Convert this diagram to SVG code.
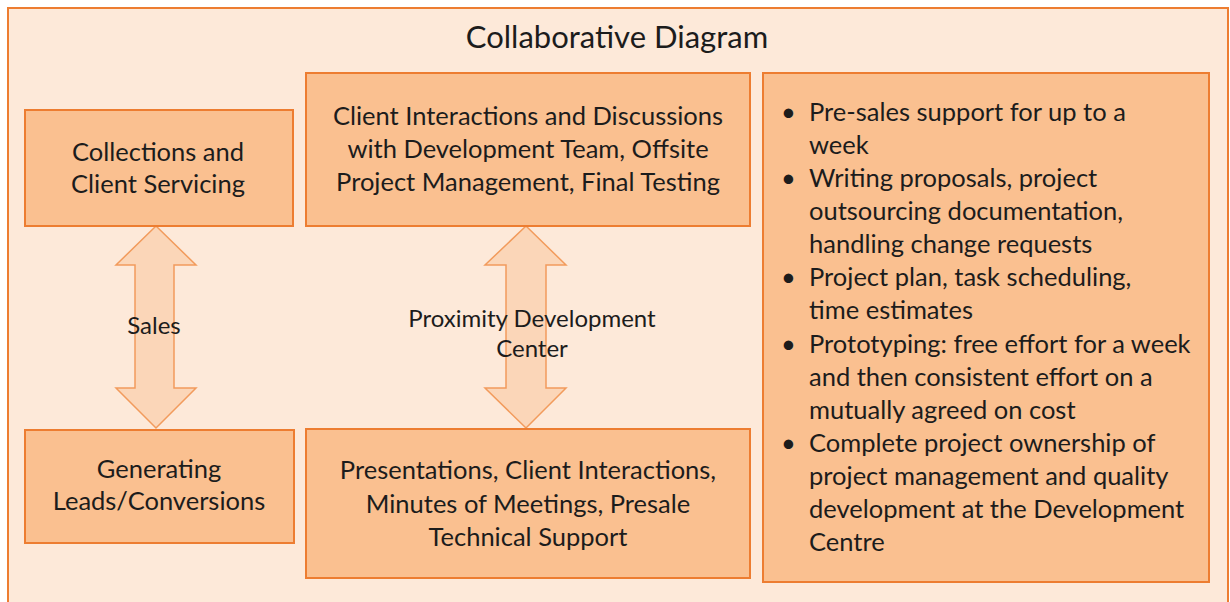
<svg xmlns="http://www.w3.org/2000/svg" width="1230" height="602" viewBox="0 0 1230 602">
<style>
.frame{fill:#FDE9D9;stroke:#ED7D31;stroke-width:2}
.box{fill:#FAC090;stroke:#ED7D31;stroke-width:2}
.arrow{fill:#FBD4B4;stroke:#F29B5C;stroke-width:1.5;fill-opacity:0.9}
text{font-family:Lato,"Liberation Sans",sans-serif;fill:#1c1c1c;font-size:25.5px}
.c{text-anchor:middle}
.title{font-size:31px}
.lbl{font-size:24px}
</style>
<rect width="1230" height="602" fill="#ffffff"/>
<g id="frame">
<rect class="frame" x="8" y="8" width="1220" height="604"/>
<text class="title c" x="617" y="48">Collaborative Diagram</text>
</g>
<g id="connectors">
<path class="arrow" d="M156,226 L196,265 L174,265 L174,388 L196,388 L156,428 L116,388 L135,388 L135,265 L116,265 Z"/>
<path class="arrow" d="M526,226 L566,265 L546,265 L546,388 L566,388 L526,428 L485,388 L506,388 L506,265 L485,265 Z"/>
<text class="lbl c" x="154" y="334">Sales</text>
<text class="lbl c" x="532" y="327">Proximity Development</text>
<text class="lbl c" x="532" y="357">Center</text>
</g>
<g id="collections">
<rect class="box" x="25" y="110" width="268" height="116"/>
<text class="c" x="158" y="161">Collections and</text>
<text class="c" x="158" y="193">Client Servicing</text>
</g>
<g id="client-interactions">
<rect class="box" x="306" y="73" width="444" height="153"/>
<text class="c" x="528" y="125">Client Interactions and Discussions</text>
<text class="c" x="528" y="158">with Development Team, Offsite</text>
<text class="c" x="528" y="191">Project Management, Final Testing</text>
</g>
<g id="generating">
<rect class="box" x="25" y="430" width="269" height="113"/>
<text class="c" x="159" y="478">Generating</text>
<text class="c" x="159" y="510">Leads/Conversions</text>
</g>
<g id="presentations">
<rect class="box" x="306" y="429" width="444" height="149"/>
<text class="c" x="528" y="479">Presentations, Client Interactions,</text>
<text class="c" x="528" y="513">Minutes of Meetings, Presale</text>
<text class="c" x="528" y="546">Technical Support</text>
</g>
<g id="services">
<rect class="box" x="763" y="73" width="446" height="509"/>
<text x="781" y="121">•</text><text x="809" y="121">Pre-sales support for up to a</text>
<text x="809" y="154">week</text>
<text x="781" y="187">•</text><text x="809" y="187">Writing proposals, project</text>
<text x="809" y="220">outsourcing documentation,</text>
<text x="809" y="253">handling change requests</text>
<text x="781" y="286">•</text><text x="809" y="286">Project plan, task scheduling,</text>
<text x="809" y="319">time estimates</text>
<text x="781" y="353">•</text><text x="809" y="353">Prototyping: free effort for a week</text>
<text x="809" y="386">and then consistent effort on a</text>
<text x="809" y="419">mutually agreed on cost</text>
<text x="781" y="452">•</text><text x="809" y="452">Complete project ownership of</text>
<text x="809" y="485">project management and quality</text>
<text x="809" y="518">development at the Development</text>
<text x="809" y="551">Centre</text>
</g>
</svg>
